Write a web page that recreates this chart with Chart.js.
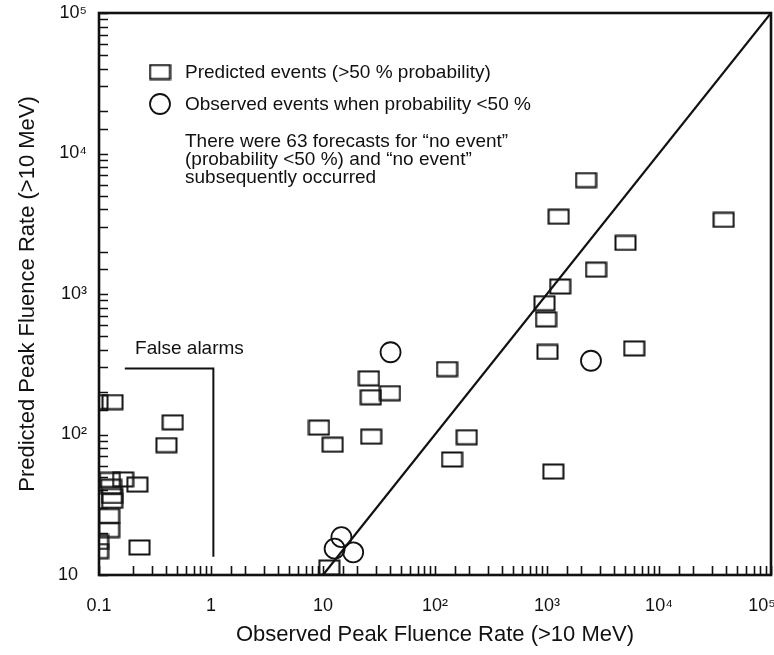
<!DOCTYPE html>
<html lang="en">
  <head>
    <meta charset="UTF-8" />
    <title>Predicted vs observed peak fluence rate</title>
    <script src="https://cdn.jsdelivr.net/npm/chart.js"></script>
    <style>
      body { margin: 0; background: #fff; }
    </style>
  </head>
  <body>
    <canvas id="fluenceChart" width="774" height="655"></canvas>

    <script>
      // Predicted events (>50 % probability): observed x, predicted y
      const predObserved = [
        2230, 1270, 37800, 5020, 2740, 1310, 950, 980, 1010, 6010, 1140,
        25.7, 26.7, 39.6, 128, 9.2, 12.2, 26.9, 192, 142, 11.4,
        0.097, 0.132, 0.455, 0.4, 0.125, 0.164, 0.22, 0.128, 0.131, 0.131,
        0.123, 0.123, 0.098, 0.098, 0.23,
      ];
      const predPredicted = [
        6470, 3550, 3370, 2310, 1490, 1130, 860, 660, 387, 410, 54.5,
        251, 184, 197, 292, 112, 84.6, 96.5, 95.6, 66.4, 11.3,
        170, 170, 122, 84, 47.5, 47.9, 44, 42.5, 36.5, 33.7,
        26.3, 20.9, 17.2, 14.8, 15.7,
      ];

      // Observed events when probability <50 %
      const obsObserved = [40.1, 2470, 14.6, 12.7, 18.6];
      const obsPredicted = [385, 335, 18.6, 15.4, 14.5];

      // y = x reference line and the "False alarms" bracket
      const diagX = [10, 100000];
      const diagY = [10, 100000];
      const bracketX = [0.17, 1.05, 1.05];
      const bracketY = [295, 295, 13.5];

      const xTickValues = [0.1, 1, 10, 100, 1000, 10000, 100000];
      const xTickLabels = ["0.1", "1", "10", "10²", "10³", "10⁴", "10⁵\u2003"];
      const yTickValues = [10, 100, 1000, 10000, 100000];
      const yTickLabels = ["10\u2002", "10²", "10³", "10⁴", "10⁵"];

      const legendLabels = [
        "Predicted events (>50 % probability)",
        "Observed events when probability <50 %",
      ];
      const noteLines = [
        "There were 63 forecasts for “no event”",
        "(probability <50 %) and “no event”",
        "subsequently occurred",
      ];

      const INK = "#111";
      const FONT = "'Liberation Sans', Arial, sans-serif";

      const zip = (xs, ys) => xs.map((x, i) => ({ x: x, y: ys[i] }));

      function findLabel(v, values, labels) {
        for (let i = 0; i < values.length; i++) {
          if (Math.abs(Math.log10(v) - Math.log10(values[i])) < 1e-6) return labels[i];
        }
        return "";
      }

      // open rectangle marker
      function boxMarker() {
        const c = document.createElement("canvas");
        c.width = 23;
        c.height = 17;
        const g = c.getContext("2d");
        g.lineWidth = 2;
        g.strokeStyle = INK;
        g.strokeRect(1.5, 1.5, 20, 14);
        return c;
      }
      const boxImg = boxMarker();

      // frame, inward ticks, legend and notes
      const decorations = {
        id: "decorations",
        afterDatasetsDraw(chart) {
          const ctx = chart.ctx;
          const a = chart.chartArea;
          const xs = chart.scales.x;
          const ys = chart.scales.y;
          ctx.save();
          ctx.strokeStyle = INK;
          ctx.lineWidth = 1.6;
          ctx.beginPath();
          xs.ticks.forEach((t) => {
            const p = Math.round(xs.getPixelForValue(t.value)) + 0.5;
            ctx.moveTo(p, a.bottom);
            ctx.lineTo(p, a.bottom - 9);
          });
          ys.ticks.forEach((t) => {
            const p = Math.round(ys.getPixelForValue(t.value)) + 0.5;
            ctx.moveTo(a.left, p);
            ctx.lineTo(a.left + 9, p);
          });
          ctx.stroke();

          ctx.lineWidth = 2.6;
          ctx.strokeRect(a.left, a.top, a.right - a.left, a.bottom - a.top);

          // legend
          ctx.drawImage(boxImg, 160 - boxImg.width / 2, 72 - boxImg.height / 2);
          ctx.lineWidth = 1.8;
          ctx.beginPath();
          ctx.arc(160, 104, 10, 0, Math.PI * 2);
          ctx.stroke();

          ctx.fillStyle = INK;
          ctx.font = "19px " + FONT;
          ctx.textBaseline = "middle";
          ctx.textAlign = "left";
          ctx.fillText(legendLabels[0], 185, 73);
          ctx.fillText(legendLabels[1], 185, 105);
          noteLines.forEach((s, i) => ctx.fillText(s, 185, 142 + i * 18));

          ctx.fillText(
            "False alarms",
            xs.getPixelForValue(0.21),
            ys.getPixelForValue(410)
          );
          ctx.restore();
        },
      };

      new Chart(document.getElementById("fluenceChart"), {
        type: "scatter",
        data: {
          datasets: [
            {
              type: "line",
              data: zip(diagX, diagY),
              borderColor: INK,
              borderWidth: 2.2,
              pointRadius: 0,
              fill: false,
            },
            {
              type: "line",
              data: zip(bracketX, bracketY),
              borderColor: INK,
              borderWidth: 2,
              pointRadius: 0,
              fill: false,
            },
            {
              label: legendLabels[0],
              data: zip(predObserved, predPredicted),
              pointStyle: boxImg,
              clip: 0,
            },
            {
              label: legendLabels[1],
              data: zip(obsObserved, obsPredicted),
              pointStyle: "circle",
              pointRadius: 10,
              borderWidth: 1.8,
              borderColor: INK,
              backgroundColor: "rgba(0,0,0,0)",
              clip: 0,
            },
          ],
        },
        options: {
          responsive: false,
          animation: false,
          layout: {
            autoPadding: false,
            padding: { top: 13, right: 3, left: 0, bottom: 0 },
          },
          plugins: {
            legend: { display: false },
            tooltip: { enabled: false },
          },
          scales: {
            x: {
              type: "logarithmic",
              min: 0.1,
              max: 100000,
              grid: { display: false, drawTicks: false },
              border: { display: false },
              ticks: {
                autoSkip: false,
                maxRotation: 0,
                padding: 20,
                color: INK,
                font: { family: FONT, size: 18 },
                callback: (v) => findLabel(v, xTickValues, xTickLabels),
              },
              title: {
                display: true,
                text: "Observed Peak Fluence Rate (>10 MeV)",
                color: INK,
                font: { family: FONT, size: 22 },
                padding: { top: 0, bottom: 7 },
              },
              afterFit(scale) {
                scale.height = 80;
                scale.paddingLeft = 0;
                scale.paddingRight = 0;
              },
            },
            y: {
              type: "logarithmic",
              min: 10,
              max: 100000,
              grid: { display: false, drawTicks: false },
              border: { display: false },
              ticks: {
                autoSkip: false,
                padding: 12,
                color: INK,
                font: { family: FONT, size: 18 },
                callback: (v) => findLabel(v, yTickValues, yTickLabels),
              },
              title: {
                display: true,
                text: "Predicted Peak Fluence Rate (>10 MeV)",
                color: INK,
                font: { family: FONT, size: 22 },
                padding: { top: 15, bottom: 0 },
              },
              afterFit(scale) {
                scale.width = 99;
                scale.paddingTop = 0;
                scale.paddingBottom = 0;
              },
            },
          },
        },
        plugins: [decorations],
      });
    </script>
  </body>
</html>
